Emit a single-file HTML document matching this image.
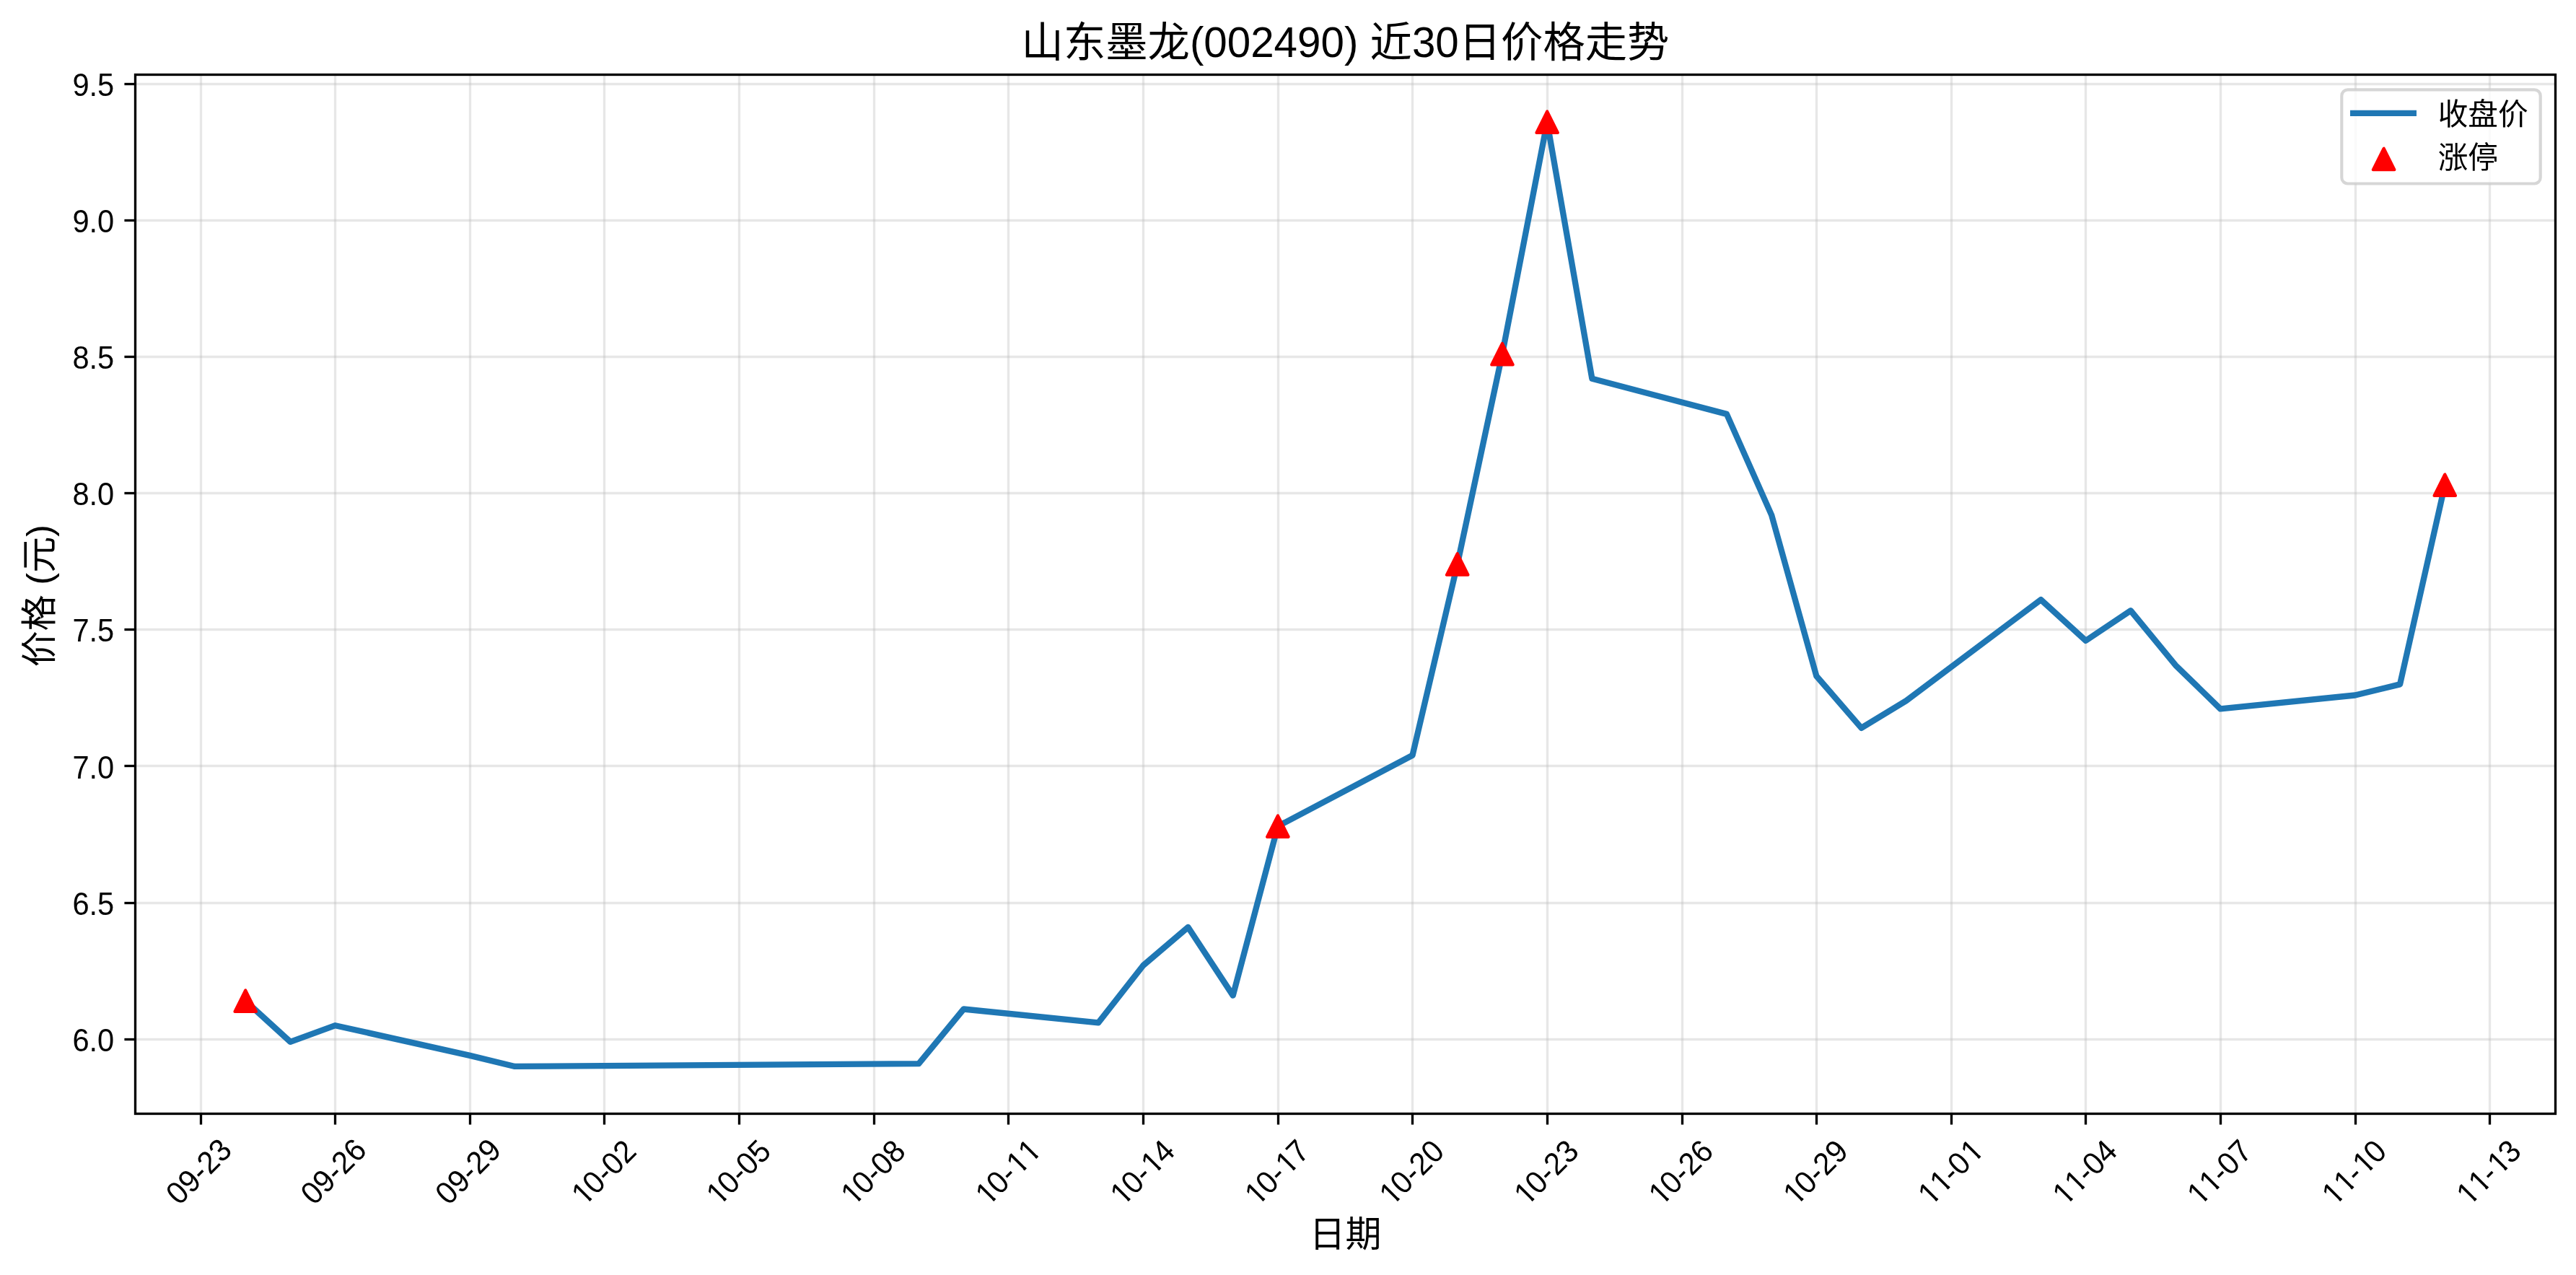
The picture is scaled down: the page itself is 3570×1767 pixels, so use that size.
<!DOCTYPE html>
<html lang="zh-CN"><head><meta charset="utf-8">
<title>山东墨龙(002490) 近30日价格走势</title>
<style>
html,body{margin:0;padding:0;background:#fff;}
body{width:3570px;height:1767px;}
svg{display:block;will-change:transform;}
text{font-family:"Liberation Sans", "Noto Sans CJK SC", sans-serif;fill:#000;font-weight:400;font-kerning:none;}
.t10{font-size:41.667px;}
.t12{font-size:50.000px;}
.t14{font-size:58.333px;}
</style></head><body>
<svg width="3570" height="1767" viewBox="0 0 3570 1767">
<g stroke="#b0b0b0" stroke-opacity="0.3" stroke-width="3.333" fill="none">
<line x1="278.5" y1="103.5" x2="278.5" y2="1543.5"/>
<line x1="464.5" y1="103.5" x2="464.5" y2="1543.5"/>
<line x1="651.5" y1="103.5" x2="651.5" y2="1543.5"/>
<line x1="837.5" y1="103.5" x2="837.5" y2="1543.5"/>
<line x1="1024.5" y1="103.5" x2="1024.5" y2="1543.5"/>
<line x1="1211.5" y1="103.5" x2="1211.5" y2="1543.5"/>
<line x1="1397.5" y1="103.5" x2="1397.5" y2="1543.5"/>
<line x1="1584.5" y1="103.5" x2="1584.5" y2="1543.5"/>
<line x1="1771.5" y1="103.5" x2="1771.5" y2="1543.5"/>
<line x1="1957.5" y1="103.5" x2="1957.5" y2="1543.5"/>
<line x1="2144.5" y1="103.5" x2="2144.5" y2="1543.5"/>
<line x1="2331.5" y1="103.5" x2="2331.5" y2="1543.5"/>
<line x1="2517.5" y1="103.5" x2="2517.5" y2="1543.5"/>
<line x1="2704.5" y1="103.5" x2="2704.5" y2="1543.5"/>
<line x1="2890.5" y1="103.5" x2="2890.5" y2="1543.5"/>
<line x1="3077.5" y1="103.5" x2="3077.5" y2="1543.5"/>
<line x1="3264.5" y1="103.5" x2="3264.5" y2="1543.5"/>
<line x1="3450.5" y1="103.5" x2="3450.5" y2="1543.5"/>
<line x1="187.5" y1="116.5" x2="3541.5" y2="116.5"/>
<line x1="187.5" y1="305.5" x2="3541.5" y2="305.5"/>
<line x1="187.5" y1="494.5" x2="3541.5" y2="494.5"/>
<line x1="187.5" y1="683.5" x2="3541.5" y2="683.5"/>
<line x1="187.5" y1="872.5" x2="3541.5" y2="872.5"/>
<line x1="187.5" y1="1061.5" x2="3541.5" y2="1061.5"/>
<line x1="187.5" y1="1251.5" x2="3541.5" y2="1251.5"/>
<line x1="187.5" y1="1440.5" x2="3541.5" y2="1440.5"/>
</g>
<polyline points="340.20,1387.15 402.41,1443.89 464.62,1421.20 651.23,1462.81 713.43,1477.94 1273.28,1474.15 1335.48,1398.50 1522.10,1417.41 1584.31,1337.98 1646.51,1285.02 1708.71,1379.59 1770.92,1145.07 1957.53,1046.72 2019.74,781.94 2081.94,490.68 2144.15,169.16 2206.36,524.72 2392.97,573.89 2455.17,713.85 2517.38,937.02 2579.59,1008.89 2641.79,971.07 2828.40,831.11 2890.61,887.85 2952.82,846.24 3015.02,921.89 3077.22,982.42 3263.84,963.50 3326.05,948.37 3388.25,672.24" fill="none" stroke="#1f77b4" stroke-width="8.333" stroke-linejoin="round" stroke-linecap="square"/>
<g fill="#ff0000" stroke="#ff0000" stroke-width="4.167" stroke-linejoin="round">
<path d="M340.20 1372.42 L325.47 1401.88 L354.94 1401.88 Z"/>
<path d="M1770.92 1130.34 L1756.19 1159.80 L1785.65 1159.80 Z"/>
<path d="M2019.74 767.21 L2005.01 796.67 L2034.47 796.67 Z"/>
<path d="M2081.94 475.95 L2067.21 505.41 L2096.68 505.41 Z"/>
<path d="M2144.15 154.43 L2129.42 183.89 L2158.88 183.89 Z"/>
<path d="M3388.25 657.51 L3373.52 686.97 L3402.98 686.97 Z"/>
</g>
<g stroke="#000" stroke-width="3.333" fill="none">
<line x1="278.5" y1="1543.5" x2="278.5" y2="1558.58"/>
<line x1="464.5" y1="1543.5" x2="464.5" y2="1558.58"/>
<line x1="651.5" y1="1543.5" x2="651.5" y2="1558.58"/>
<line x1="837.5" y1="1543.5" x2="837.5" y2="1558.58"/>
<line x1="1024.5" y1="1543.5" x2="1024.5" y2="1558.58"/>
<line x1="1211.5" y1="1543.5" x2="1211.5" y2="1558.58"/>
<line x1="1397.5" y1="1543.5" x2="1397.5" y2="1558.58"/>
<line x1="1584.5" y1="1543.5" x2="1584.5" y2="1558.58"/>
<line x1="1771.5" y1="1543.5" x2="1771.5" y2="1558.58"/>
<line x1="1957.5" y1="1543.5" x2="1957.5" y2="1558.58"/>
<line x1="2144.5" y1="1543.5" x2="2144.5" y2="1558.58"/>
<line x1="2331.5" y1="1543.5" x2="2331.5" y2="1558.58"/>
<line x1="2517.5" y1="1543.5" x2="2517.5" y2="1558.58"/>
<line x1="2704.5" y1="1543.5" x2="2704.5" y2="1558.58"/>
<line x1="2890.5" y1="1543.5" x2="2890.5" y2="1558.58"/>
<line x1="3077.5" y1="1543.5" x2="3077.5" y2="1558.58"/>
<line x1="3264.5" y1="1543.5" x2="3264.5" y2="1558.58"/>
<line x1="3450.5" y1="1543.5" x2="3450.5" y2="1558.58"/>
<line x1="172.42" y1="116.5" x2="187.5" y2="116.5"/>
<line x1="172.42" y1="305.5" x2="187.5" y2="305.5"/>
<line x1="172.42" y1="494.5" x2="187.5" y2="494.5"/>
<line x1="172.42" y1="683.5" x2="187.5" y2="683.5"/>
<line x1="172.42" y1="872.5" x2="187.5" y2="872.5"/>
<line x1="172.42" y1="1061.5" x2="187.5" y2="1061.5"/>
<line x1="172.42" y1="1251.5" x2="187.5" y2="1251.5"/>
<line x1="172.42" y1="1440.5" x2="187.5" y2="1440.5"/>
</g>
<rect x="187.5" y="103.5" width="3354.0" height="1440.0" fill="none" stroke="#000" stroke-width="3.333" stroke-linejoin="miter"/>
<g class="t10" text-anchor="end">
<text transform="translate(158.30 132.90) scale(1 1.0500)" x="0" y="0">9.5</text>
<text transform="translate(158.30 322.04) scale(1 1.0500)" x="0" y="0">9.0</text>
<text transform="translate(158.30 511.19) scale(1 1.0500)" x="0" y="0">8.5</text>
<text transform="translate(158.30 700.33) scale(1 1.0500)" x="0" y="0">8.0</text>
<text transform="translate(158.30 889.47) scale(1 1.0500)" x="0" y="0">7.5</text>
<text transform="translate(158.30 1078.62) scale(1 1.0500)" x="0" y="0">7.0</text>
<text transform="translate(158.30 1267.76) scale(1 1.0500)" x="0" y="0">6.5</text>
<text transform="translate(158.30 1456.90) scale(1 1.0500)" x="0" y="0">6.0</text>
</g>
<g class="t10" text-anchor="middle">
<text transform="translate(275.40 1623.50) rotate(-45) scale(1 1.0500)" x="0" y="14.29">09-23</text>
<text transform="translate(461.99 1623.50) rotate(-45) scale(1 1.0500)" x="0" y="14.29">09-26</text>
<text transform="translate(648.58 1623.50) rotate(-45) scale(1 1.0500)" x="0" y="14.29">09-29</text>
<clipPath id="c3"><path d="M-90 -70.00 H90 V22.29 H-29.15 V10.27 H-36.77 V22.29 H-41.16 V10.27 H-49.11 V22.29 H-90 Z"/></clipPath>
<text transform="translate(835.96 1625.30) rotate(-45) scale(1 1.0500)" clip-path="url(#c3)" x="-1.00" y="14.29" dx="2.00 -2.00 0.00 0.00 0.00">10-02</text>
<clipPath id="c4"><path d="M-90 -70.00 H90 V22.29 H-29.15 V10.27 H-36.77 V22.29 H-41.16 V10.27 H-49.11 V22.29 H-90 Z"/></clipPath>
<text transform="translate(1022.55 1625.30) rotate(-45) scale(1 1.0500)" clip-path="url(#c4)" x="-1.00" y="14.29" dx="2.00 -2.00 0.00 0.00 0.00">10-05</text>
<clipPath id="c5"><path d="M-90 -70.00 H90 V22.29 H-29.15 V10.27 H-36.77 V22.29 H-41.16 V10.27 H-49.11 V22.29 H-90 Z"/></clipPath>
<text transform="translate(1209.14 1625.30) rotate(-45) scale(1 1.0500)" clip-path="url(#c5)" x="-1.00" y="14.29" dx="2.00 -2.00 0.00 0.00 0.00">10-08</text>
<clipPath id="c6"><path d="M-90 -70.00 H90 V22.29 H54.25 V10.27 H46.62 V22.29 H42.24 V10.27 H34.28 V22.29 H31.08 V10.27 H23.45 V22.29 H19.07 V10.27 H11.11 V22.29 H-29.15 V10.27 H-36.77 V22.29 H-41.16 V10.27 H-49.11 V22.29 H-90 Z"/></clipPath>
<text transform="translate(1395.73 1625.30) rotate(-45) scale(1 1.0500)" clip-path="url(#c6)" x="0.00" y="14.29" dx="2.00 -2.00 0.00 2.00 0.00">10-11</text>
<clipPath id="c7"><path d="M-90 -70.00 H90 V22.29 H31.08 V10.27 H23.45 V22.29 H19.07 V10.27 H11.11 V22.29 H-29.15 V10.27 H-36.77 V22.29 H-41.16 V10.27 H-49.11 V22.29 H-90 Z"/></clipPath>
<text transform="translate(1582.32 1625.30) rotate(-45) scale(1 1.0500)" clip-path="url(#c7)" x="-1.00" y="14.29" dx="2.00 -2.00 0.00 2.00 -2.00">10-14</text>
<clipPath id="c8"><path d="M-90 -70.00 H90 V22.29 H31.08 V10.27 H23.45 V22.29 H19.07 V10.27 H11.11 V22.29 H-29.15 V10.27 H-36.77 V22.29 H-41.16 V10.27 H-49.11 V22.29 H-90 Z"/></clipPath>
<text transform="translate(1768.90 1625.30) rotate(-45) scale(1 1.0500)" clip-path="url(#c8)" x="-1.00" y="14.29" dx="2.00 -2.00 0.00 2.00 -2.00">10-17</text>
<clipPath id="c9"><path d="M-90 -70.00 H90 V22.29 H-29.15 V10.27 H-36.77 V22.29 H-41.16 V10.27 H-49.11 V22.29 H-90 Z"/></clipPath>
<text transform="translate(1955.49 1625.30) rotate(-45) scale(1 1.0500)" clip-path="url(#c9)" x="-1.00" y="14.29" dx="2.00 -2.00 0.00 0.00 0.00">10-20</text>
<clipPath id="c10"><path d="M-90 -70.00 H90 V22.29 H-29.15 V10.27 H-36.77 V22.29 H-41.16 V10.27 H-49.11 V22.29 H-90 Z"/></clipPath>
<text transform="translate(2142.08 1625.30) rotate(-45) scale(1 1.0500)" clip-path="url(#c10)" x="-1.00" y="14.29" dx="2.00 -2.00 0.00 0.00 0.00">10-23</text>
<clipPath id="c11"><path d="M-90 -70.00 H90 V22.29 H-29.15 V10.27 H-36.77 V22.29 H-41.16 V10.27 H-49.11 V22.29 H-90 Z"/></clipPath>
<text transform="translate(2328.67 1625.30) rotate(-45) scale(1 1.0500)" clip-path="url(#c11)" x="-1.00" y="14.29" dx="2.00 -2.00 0.00 0.00 0.00">10-26</text>
<clipPath id="c12"><path d="M-90 -70.00 H90 V22.29 H-29.15 V10.27 H-36.77 V22.29 H-41.16 V10.27 H-49.11 V22.29 H-90 Z"/></clipPath>
<text transform="translate(2515.26 1625.30) rotate(-45) scale(1 1.0500)" clip-path="url(#c12)" x="-1.00" y="14.29" dx="2.00 -2.00 0.00 0.00 0.00">10-29</text>
<clipPath id="c13"><path d="M-90 -70.00 H90 V22.29 H54.25 V10.27 H46.62 V22.29 H42.24 V10.27 H34.28 V22.29 H-5.97 V10.27 H-13.60 V22.29 H-17.98 V10.27 H-25.94 V22.29 H-29.15 V10.27 H-36.77 V22.29 H-41.16 V10.27 H-49.11 V22.29 H-90 Z"/></clipPath>
<text transform="translate(2701.84 1625.30) rotate(-45) scale(1 1.0500)" clip-path="url(#c13)" x="0.00" y="14.29" dx="2.00 0.00 -2.00 0.00 2.00">11-01</text>
<clipPath id="c14"><path d="M-90 -70.00 H90 V22.29 H-5.97 V10.27 H-13.60 V22.29 H-17.98 V10.27 H-25.94 V22.29 H-29.15 V10.27 H-36.77 V22.29 H-41.16 V10.27 H-49.11 V22.29 H-90 Z"/></clipPath>
<text transform="translate(2888.43 1625.30) rotate(-45) scale(1 1.0500)" clip-path="url(#c14)" x="-1.00" y="14.29" dx="2.00 0.00 -2.00 0.00 0.00">11-04</text>
<clipPath id="c15"><path d="M-90 -70.00 H90 V22.29 H-5.97 V10.27 H-13.60 V22.29 H-17.98 V10.27 H-25.94 V22.29 H-29.15 V10.27 H-36.77 V22.29 H-41.16 V10.27 H-49.11 V22.29 H-90 Z"/></clipPath>
<text transform="translate(3075.02 1625.30) rotate(-45) scale(1 1.0500)" clip-path="url(#c15)" x="-1.00" y="14.29" dx="2.00 0.00 -2.00 0.00 0.00">11-07</text>
<clipPath id="c16"><path d="M-90 -70.00 H90 V22.29 H31.08 V10.27 H23.45 V22.29 H19.07 V10.27 H11.11 V22.29 H-5.97 V10.27 H-13.60 V22.29 H-17.98 V10.27 H-25.94 V22.29 H-29.15 V10.27 H-36.77 V22.29 H-41.16 V10.27 H-49.11 V22.29 H-90 Z"/></clipPath>
<text transform="translate(3261.61 1625.30) rotate(-45) scale(1 1.0500)" clip-path="url(#c16)" x="-1.00" y="14.29" dx="2.00 0.00 -2.00 2.00 -2.00">11-10</text>
<clipPath id="c17"><path d="M-90 -70.00 H90 V22.29 H31.08 V10.27 H23.45 V22.29 H19.07 V10.27 H11.11 V22.29 H-5.97 V10.27 H-13.60 V22.29 H-17.98 V10.27 H-25.94 V22.29 H-29.15 V10.27 H-36.77 V22.29 H-41.16 V10.27 H-49.11 V22.29 H-90 Z"/></clipPath>
<text transform="translate(3448.20 1625.30) rotate(-45) scale(1 1.0500)" clip-path="url(#c17)" x="-1.00" y="14.29" dx="2.00 0.00 -2.00 2.00 -2.00">11-13</text>
</g>
<text class="t14" text-anchor="middle" x="1864.50" y="79.00">山东墨龙(002490) 近30日价格走势</text>
<text class="t12" text-anchor="middle" x="1864.50" y="1728.00">日期</text>
<text class="t12" text-anchor="middle" transform="translate(72.00 825.70) rotate(-90)" x="0" y="0">价格 (元)</text>
<rect x="3245.30" y="124.30" width="275.40" height="130.20" rx="8.33" ry="8.33" fill="#ffffff" fill-opacity="0.8" stroke="#cccccc" stroke-opacity="0.8" stroke-width="4.167"/>
<line x1="3261.17" y1="156.90" x2="3344.80" y2="156.90" stroke="#1f77b4" stroke-width="8.333" stroke-linecap="square"/>
<g fill="#ff0000" stroke="#ff0000" stroke-width="4.167" stroke-linejoin="round">
<path d="M3303.63 205.77 L3288.90 235.23 L3318.36 235.23 Z"/>
</g>
<text class="t10" x="3378.70" y="173.00">收盘价</text>
<text class="t10" x="3378.70" y="232.60">涨停</text>
</svg>
</body></html>
